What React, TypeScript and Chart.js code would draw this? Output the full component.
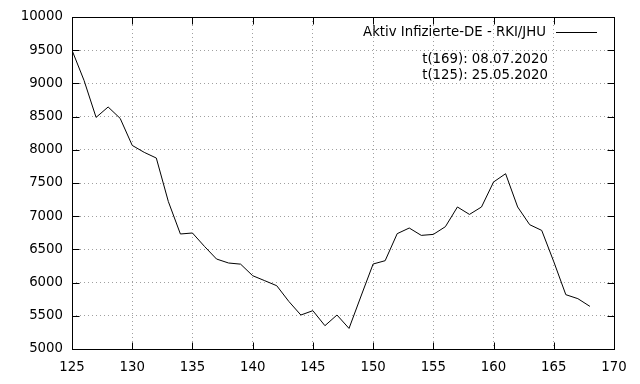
import React, { useEffect, useRef } from "react";
import { Chart, registerables } from "chart.js";

Chart.register(...registerables);

const days = [
  125, 126, 127, 128, 129, 130, 131, 132, 133, 134, 135, 136, 137, 138, 139,
  140, 141, 142, 143, 144, 145, 146, 147, 148, 149, 150, 151, 152, 153, 154,
  155, 156, 157, 158, 159, 160, 161, 162, 163, 164, 165, 166, 167, 168,
];
const activeInfected = [
  9500, 9045, 8488, 8645, 8473, 8066, 7961, 7876, 7220, 6732, 6747, 6545, 6355,
  6295, 6278, 6104, 6029, 5953, 5717, 5512, 5577, 5351, 5512, 5310, 5798, 6280,
  6330, 6737, 6822, 6711, 6726, 6842, 7139, 7027, 7139, 7515, 7640, 7139, 6872,
  6786, 6315, 5818, 5758, 5642,
];
const seriesLabel = "Aktiv Infizierte-DE - RKI/JHU";
const noteLines = ["t(169): 08.07.2020", "t(125): 25.05.2020"];
const xMin = 125, xMax = 170, xStep = 5;
const yMin = 5000, yMax = 10000, yStep = 500;

const FONT = "DejaVu Sans";
const FSIZE = 13.3;

const framePlugin = {
  id: "gnuFrame",
  afterDraw(chart: any) {
    const { ctx, chartArea } = chart;
    const { left, right, top, bottom } = chartArea;
    const xs = chart.scales.x;
    const ys = chart.scales.y;
    ctx.save();
    ctx.strokeStyle = "#000";
    ctx.lineWidth = 1;
    const L = Math.round(left) + 0.5, R = Math.round(right) + 0.5;
    const T = Math.round(top) + 0.5, B = Math.round(bottom) + 0.5;
    const tl = 7;
    ctx.beginPath();
    xs.ticks.forEach((t: any) => {
      const px = Math.round(xs.getPixelForValue(t.value)) + 0.5;
      ctx.moveTo(px, B); ctx.lineTo(px, B - tl);
      ctx.moveTo(px, T); ctx.lineTo(px, T + tl);
    });
    ys.ticks.forEach((t: any) => {
      const py = Math.round(ys.getPixelForValue(t.value)) + 0.5;
      ctx.moveTo(L, py); ctx.lineTo(L + tl, py);
      ctx.moveTo(R, py); ctx.lineTo(R - tl, py);
    });
    ctx.stroke();
    ctx.strokeRect(L, T, R - L, B - T);

    // key
    ctx.fillStyle = "#000";
    ctx.font = `${FSIZE}px "${FONT}"`;
    ctx.textAlign = "right";
    ctx.textBaseline = "middle";
    ctx.fillText(seriesLabel, 546, 33);
    ctx.beginPath();
    ctx.moveTo(556, 32.5);
    ctx.lineTo(597, 32.5);
    ctx.stroke();
    ctx.fillText(noteLines[0], 548, 60);
    ctx.fillText(noteLines[1], 548, 76);
    ctx.restore();
  },
};

export default function App() {
  const ref = useRef<HTMLCanvasElement | null>(null);
  useEffect(() => {
    if (!ref.current) return;
    const gridOpts: any = {
      color: "#a0a0a0",
      lineWidth: 1,
      drawTicks: false,
    };
    const borderOpts: any = { display: false, dash: [1, 3] };
    const chart = new Chart(ref.current, {
      type: "line",
      data: {
        datasets: [
          {
            label: seriesLabel,
            data: days.map((d, i) => ({ x: d, y: activeInfected[i] })),
            borderColor: "#000",
            borderWidth: 1,
            pointRadius: 0,
            fill: false,
            tension: 0,
          },
        ],
      },
      options: {
        animation: false,
        responsive: false,
        maintainAspectRatio: false,
        layout: { padding: { left: 0, right: 26, top: 17, bottom: 0 } },
        plugins: { legend: { display: false }, tooltip: { enabled: false } },
        scales: {
          x: {
            type: "linear",
            min: xMin,
            max: xMax,
            border: borderOpts,
            grid: gridOpts,
            ticks: {
              stepSize: xStep,
              color: "#000",
              padding: 11,
              maxRotation: 0,
              font: { family: FONT, size: FSIZE },
              callback: (v: any) => String(v),
            },
            afterFit(scale: any) {
              scale.height = 35;
            },
          },
          y: {
            type: "linear",
            min: yMin,
            max: yMax,
            border: borderOpts,
            grid: gridOpts,
            ticks: {
              stepSize: yStep,
              color: "#000",
              padding: 9,
              font: { family: FONT, size: FSIZE },
              callback: (v: any) => String(v),
            },
            afterFit(scale: any) {
              scale.width = 72;
            },
          },
        },
      },
      plugins: [framePlugin],
    });
    return () => chart.destroy();
  }, []);
  return (
    <div style={{ position: "fixed", left: 0, top: 0, width: 640, height: 384, background: "#fff" }}>
      <canvas ref={ref} width={640} height={384} />
    </div>
  );
}
